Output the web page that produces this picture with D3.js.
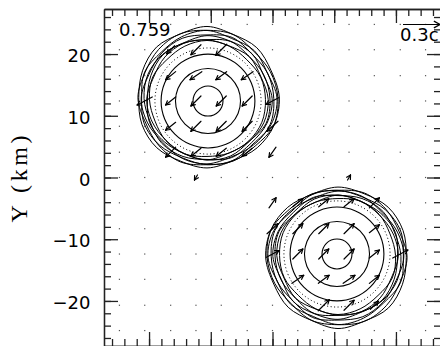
<!DOCTYPE html>
<html lang="en">
<head>
<meta charset="utf-8">
<title>Velocity field</title>
<script src="https://d3js.org/d3.v7.min.js"></script>
<style>
  body { margin: 0; background: #fff; }
  svg { display: block; font-family: "DejaVu Sans", sans-serif; }
  .axis .domain, .axis line { stroke: #222; stroke-width: 1.3; }
  .axis text { font-size: 18px; fill: #000; font-family: "DejaVu Sans", sans-serif; }
</style>
</head>
<body>
<svg width="440" height="346"></svg>
<script>
// velocity sample grid (km)
const gridKm = [-24.8, -20.7, -16.5, -12.4, -8.3, -4.1, 0, 4.1, 8.3, 12.4, 16.5, 20.7, 24.8];
const yTickLabels = [-20, -10, 0, 10, 20];
const timeLabel = "0.759";
const keyLabel = "0.3c";
const keySpeed = 0.3;

// first star; the second one is the same rotated by 180 deg about the origin
const starCenter = [-10.45, 12.39];
const innerRadii = [2.43, 5.27, 7.6];
const dottedRadius = 8.6;
const outerRadii = [9.32, 9.56, 9.80, 10.05, 10.37, 10.69, 10.94, 11.26];
const outerShiftX = [-0.16, -0.16, -0.16, -0.16, -0.16, -0.16, -0.16, -0.16];
const outerShiftY = [0.24, 0.29, 0.34, 0.39, 0.44, 0.49, 0.52, 0.57];
// radius deviations (km) at 16 angles, starting east, counter-clockwise
const outerWobble = [
  [0.15, 0.10, -0.20, 0.05, 0.25, 0.05, -0.15, 0.20, 0.00, -0.20, 0.10, 0.20, -0.10, 0.05, 0.20, 0.30],
  [0.35, -0.10, 0.15, -0.20, 0.05, 0.25, 0.10, -0.20, 0.20, 0.05, -0.15, 0.00, 0.25, -0.15, 0.10, 0.40],
  [0.40, 0.20, -0.10, 0.25, -0.20, 0.00, 0.30, 0.05, -0.15, 0.25, 0.00, -0.20, 0.10, 0.20, -0.10, 0.55],
  [0.50, -0.15, 0.25, 0.00, 0.15, -0.25, 0.10, 0.30, 0.15, -0.10, 0.25, 0.10, -0.20, 0.30, 0.10, 0.45],
  [0.45, 0.25, -0.15, 0.30, -0.10, 0.15, 0.00, -0.20, 0.30, 0.05, -0.25, 0.15, 0.25, -0.10, 0.30, 0.70],
  [0.65, -0.10, 0.15, -0.25, 0.25, 0.05, -0.20, 0.25, -0.10, 0.30, 0.15, -0.20, 0.10, 0.25, -0.15, 0.55],
  [0.55, 0.15, -0.25, 0.15, 0.00, 0.30, 0.15, -0.10, 0.25, -0.20, 0.05, 0.30, -0.10, 0.15, 0.10, 0.75],
  [0.45, 0.00, 0.15, -0.20, 0.25, -0.10, 0.30, 0.05, -0.20, 0.15, 0.25, -0.10, 0.15, -0.20, 0.25, 0.50]
];
// [grid column, grid row, vx (c), vy (c)], grid index 0 = centre
const starArrows = [
  [-4, 5, -0.065, -0.065], [-3, 5, -0.081, -0.081], [-2, 5, -0.089, -0.089],
  [-4, 4, -0.081, -0.065], [-3, 4, -0.095, -0.065], [-2, 4, -0.087, -0.065], [-1, 4, -0.095, -0.065],
  [-5, 3, -0.122, -0.065], [-4, 3, -0.081, -0.065], [-3, 3, -0.081, -0.081], [-2, 3, -0.081, -0.081],
  [-1, 3, -0.081, -0.081], [0, 3, -0.106, -0.057],
  [-4, 2, -0.081, -0.065], [-3, 2, -0.081, -0.081], [-2, 2, -0.081, -0.081], [-1, 2, -0.081, -0.081],
  [0, 2, -0.089, -0.081],
  [-4, 1, -0.081, -0.081], [-3, 1, -0.081, -0.065], [-2, 1, -0.081, -0.065], [-1, 1, -0.081, -0.065],
  [0, 1, -0.057, -0.081],
  [-3, 0, -0.024, -0.041]
];

const svg = d3.select("svg");
const plotLeft = 104, plotRight = 441, plotTop = 9, plotBottom = 346;
const x = d3.scaleLinear().domain([-27.3, 27.3]).range([plotLeft, plotRight]);
const y = d3.scaleLinear().domain([-27.3, 27.3]).range([plotBottom, plotTop]);
const vlen = d3.scaleLinear().domain([0, keySpeed]).range([0, 37]);

// both stars' arrows
const allArrows = starArrows.concat(starArrows.map(a => [-a[0], -a[1], -a[2], -a[3]]));
const hasArrow = new Set(allArrows.map(a => a[0] + "," + a[1]));

// grid dots where the speed is ~0
const dots = [];
gridKm.forEach((gx, i) => gridKm.forEach((gy, j) => {
  if (!hasArrow.has((i - 6) + "," + (j - 6))) dots.push([gx, gy]);
}));
svg.append("g").selectAll("rect").data(dots).join("rect")
  .attr("x", d => x(d[0]) - 0.6).attr("y", d => y(d[1]) - 0.6)
  .attr("width", 1.2).attr("height", 1.2).attr("fill", "#555");

// contours
const angles = d3.range(16).map(k => k * Math.PI / 8);
const ring = d3.line().curve(d3.curveCatmullRomClosed);
function contour(cx, cy, radii, sign) {
  return ring(angles.map((t, k) => {
    const r = radii[k];
    const px = cx + r * Math.cos(t), py = cy + r * Math.sin(t);
    return [x(sign * px), y(sign * py)];
  }));
}
const cg = svg.append("g").attr("fill", "none").attr("stroke", "#000");
[1, -1].forEach(sign => {
  const [cx, cy] = starCenter;
  innerRadii.forEach(r => {
    cg.append("path").attr("d", contour(cx, cy, angles.map(() => r), sign)).attr("stroke-width", 1.1);
  });
  cg.append("path").attr("d", contour(cx, cy, angles.map(() => dottedRadius), sign))
    .attr("stroke-width", 1).attr("stroke-dasharray", "1 2.5");
  outerRadii.forEach((r, k) => {
    cg.append("path")
      .attr("d", contour(cx + outerShiftX[k], cy + outerShiftY[k], outerWobble[k].map(w => r + w), sign))
      .attr("stroke-width", 1);
  });
});

// arrows, centred on their grid point
function arrow(g, x1, y1, x2, y2, head) {
  const a = Math.atan2(y2 - y1, x2 - x1);
  g.append("line").attr("x1", x1).attr("y1", y1).attr("x2", x2).attr("y2", y2);
  [-0.5, 0.5].forEach(s => {
    g.append("line").attr("x1", x2).attr("y1", y2)
      .attr("x2", x2 - head * Math.cos(a + s)).attr("y2", y2 - head * Math.sin(a + s));
  });
}
const ag = svg.append("g").attr("stroke", "#000").attr("stroke-width", 1.2).attr("stroke-linecap", "round");
allArrows.forEach(a => {
  const px = x(gridKm[a[0] + 6]), py = y(gridKm[a[1] + 6]);
  const dx = vlen(a[2]), dy = -vlen(a[3]);
  arrow(ag, px - dx / 2, py - dy / 2, px + dx / 2, py + dy / 2, 4.5);
});

// axes: major ticks every 10, minor every 2, all pointing inward
const minor = d3.range(-26, 27, 2);
function addAxis(axis, tr, major) {
  const g = svg.append("g").attr("class", "axis").attr("transform", tr);
  g.call(axis.tickValues(minor).tickSize(-7).tickSizeOuter(0).tickFormat(""));
  const m = svg.append("g").attr("class", "axis").attr("transform", tr);
  m.call(major);
  return m;
}
addAxis(d3.axisTop(x), `translate(0,${plotTop})`, d3.axisTop(x).tickValues(yTickLabels).tickSize(-14).tickSizeOuter(0).tickFormat(""));
addAxis(d3.axisBottom(x), `translate(0,${plotBottom})`, d3.axisBottom(x).tickValues(yTickLabels).tickSize(-14).tickSizeOuter(0).tickFormat(""));
addAxis(d3.axisRight(y), `translate(${plotRight},0)`, d3.axisRight(y).tickValues(yTickLabels).tickSize(-14).tickSizeOuter(0).tickFormat(""));
const la = addAxis(d3.axisLeft(y), `translate(${plotLeft},0)`,
  d3.axisLeft(y).tickValues(yTickLabels).tickSize(-14).tickSizeOuter(0).tickPadding(13.5).tickFormat(d3.format("d")));
la.selectAll("text").attr("dy", "0.42em");

svg.append("text").attr("transform", "translate(27,179) rotate(-90)")
  .attr("text-anchor", "middle").attr("font-family", "'Liberation Serif', serif").attr("font-size", 24)
  .attr("fill", "#000").attr("textLength", 87).attr("lengthAdjust", "spacing")
  .text("Y (km)");

svg.append("text").attr("x", 119).attr("y", 36).attr("font-size", 18).text(timeLabel);

// velocity key
const kg = svg.append("g").attr("stroke", "#000").attr("stroke-width", 1.2);
arrow(kg, 403, 24.5, 403 + vlen(keySpeed), 24.5, 7);
svg.append("text").attr("x", 400).attr("y", 41).attr("font-size", 18).text(keyLabel);
</script>
</body>
</html>
